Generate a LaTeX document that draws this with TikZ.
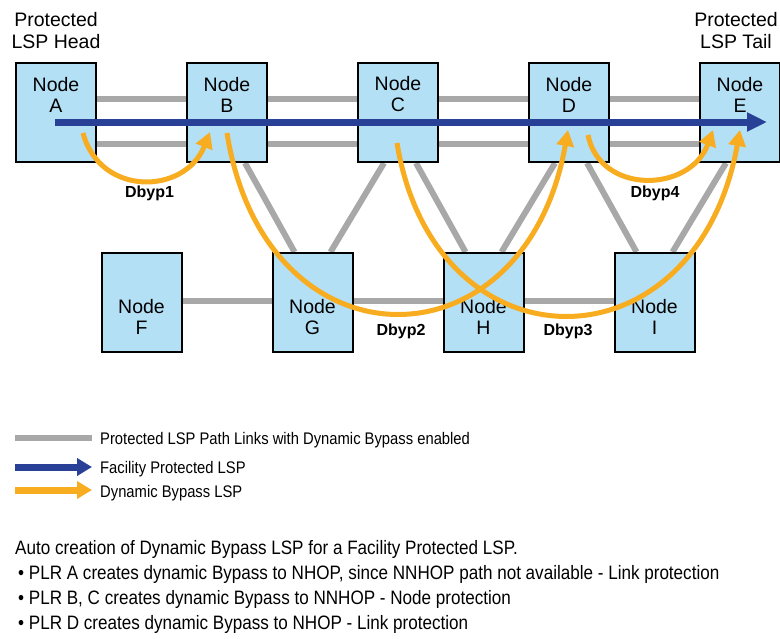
\documentclass[tikz,border=0pt]{standalone}
\usepackage{fontspec}
\setmainfont{Liberation Sans}
\newfontfamily\condfont[FakeStretch=0.88]{Liberation Sans}
\usepackage{tikz}
\usetikzlibrary{positioning,arrows.meta,backgrounds}

\definecolor{nodefill}{RGB}{180,224,245}
\definecolor{linkgray}{RGB}{168,168,168}
\definecolor{lspblue}{RGB}{40,64,150}
\definecolor{bypassorange}{RGB}{248,172,32}

\begin{document}
\begin{tikzpicture}[x=1pt, y=-1pt, node distance=89pt, every node/.style={inner sep=0pt},
  box/.style={draw, line width=2pt, fill=nodefill, minimum width=80pt, minimum height=99pt},
  nodetxt/.style={align=center, font=\fontsize{19.5}{21}\selectfont},
  toptxt/.style={nodetxt, yshift=18pt}, bottxt/.style={nodetxt, yshift=-14.5pt},
  hdr/.style={align=center, font=\fontsize{19.5}{22}\selectfont},
  dblbl/.style={font=\bfseries\fontsize{16}{16}\selectfont, anchor=base},
  legtxt/.style={font=\condfont\fontsize{16.8}{18}\selectfont, anchor=base west},
  note/.style={font=\condfont\fontsize{19.4}{22}\selectfont, anchor=base west},
  link/.style={draw=linkgray, line width=6pt},
  lsp/.style={draw=lspblue, line width=7pt, -{Triangle[length=20pt,width=18pt]}},
  bypass/.style={draw=bypassorange, line width=5pt, -{Triangle[length=16pt,width=17pt]}},
  legarr/.style={line width=7pt, -{Triangle[length=15pt,width=17pt]}}]
\useasboundingbox (0,0) rectangle (780,638);

% protected path, top row
\node[box, label={[toptxt]center:Node\\A}] (A) at (56,112.5) {};
\node[box, right=of A, label={[toptxt]center:Node\\B}] (B) {};
\node[box, right=of B, label={[toptxt]center:Node\\C}] (C) {};
\node[box, right=of C, label={[toptxt]center:Node\\D}] (D) {};
\node[box, right=of D, label={[toptxt]center:Node\\E}] (E) {};
\node[hdr, above=13pt of A] (head) {Protected\\LSP Head};
\node[hdr, above=13pt of E, xshift=-4pt] (tail) {Protected\\LSP Tail};

% bottom row
\node[box, below=of A, xshift=85.5pt, label={[bottxt]center:Node\\F}] (F) {};
\node[box, right=of F, label={[bottxt]center:Node\\G}] (G) {};
\node[box, right=of G, label={[bottxt]center:Node\\H}] (H) {};
\node[box, right=of H, label={[bottxt]center:Node\\I}] (I) {};

% links
\begin{scope}[on background layer]
\draw[link] ([yshift=13.5pt]A.center) -- ([yshift=13.5pt]B.center); \draw[link] ([yshift=-31.5pt]A.center) -- ([yshift=-31.5pt]B.center);
\draw[link] ([yshift=13.5pt]B.center) -- ([yshift=13.5pt]C.center); \draw[link] ([yshift=-31.5pt]B.center) -- ([yshift=-31.5pt]C.center);
\draw[link] ([yshift=13.5pt]C.center) -- ([yshift=13.5pt]D.center); \draw[link] ([yshift=-31.5pt]C.center) -- ([yshift=-31.5pt]D.center);
\draw[link] ([yshift=13.5pt]D.center) -- ([yshift=13.5pt]E.center); \draw[link] ([yshift=-31.5pt]D.center) -- ([yshift=-31.5pt]E.center);
\draw[link] ([yshift=2pt]F.center) -- ([yshift=2pt]G.center); \draw[link] ([yshift=2pt]G.center) -- ([yshift=2pt]H.center);
\draw[link] ([yshift=2pt]H.center) -- ([yshift=2pt]I.center);
\draw[link] ([xshift=18pt]B.south) -- ([xshift=-18pt]G.north); \draw[link] ([xshift=-14pt]C.south) -- ([xshift=18pt]G.north);
\draw[link] ([xshift=18pt]C.south) -- ([xshift=-18pt]H.north); \draw[link] ([xshift=-14pt]D.south) -- ([xshift=18pt]H.north);
\draw[link] ([xshift=18pt]D.south) -- ([xshift=-18pt]I.north); \draw[link] ([xshift=-14pt]E.south) -- ([xshift=18pt]I.north);
\end{scope}

% LSP and bypasses
\draw[lsp] ([shift={(-1,9.5)}]A.center) -- ([shift={(27,9.5)}]E.center);
\draw[bypass] ([shift={(27,20.5)}]A.center) .. controls ([shift={(44,84.5)}]A.center) and ([shift={(-42,82.5)}]B.center) .. ([shift={(-17,19.5)}]B.center);
\draw[bypass] ([shift={(0,20.5)}]B.center) .. controls ([shift={(38,260.5)}]B.center) and ([shift={(-44,260.5)}]D.center) .. ([shift={(-1,17.5)}]D.center);
\draw[bypass] ([shift={(-1,30.5)}]C.center) .. controls ([shift={(37,261.5)}]C.center) and ([shift={(-44,261.5)}]E.center) .. ([shift={(0,17.5)}]E.center);
\draw[bypass] ([shift={(19,22.5)}]D.center) .. controls ([shift={(31,82.5)}]D.center) and ([shift={(-50,80.5)}]E.center) .. ([shift={(-27,17.5)}]E.center);
\node[dblbl] (d1) at (149.5,197) {Dbyp1};
\node[dblbl] (d2) at (401,335) {Dbyp2};
\node[dblbl] (d3) at (568,335) {Dbyp3};
\node[dblbl] (d4) at (655,197) {Dbyp4};

% legend
\node[legtxt] (leg1) at (100,444) {Protected LSP Path Links with Dynamic Bypass enabled};
\node[legtxt] (leg2) at (100,473) {Facility Protected LSP};
\node[legtxt] (leg3) at (100,497) {Dynamic Bypass LSP};
\coordinate (k1) at (15,438); \coordinate (k2) at (15,467); \coordinate (k3) at (15,490);
\draw[link, shorten >=8pt] (k1) -- (k1 -| leg1.west);
\draw[legarr, draw=lspblue, shorten >=8pt] (k2) -- (k2 -| leg2.west);
\draw[legarr, draw=bypassorange, shorten >=8pt] (k3) -- (k3 -| leg3.west);

% notes
\node[note] (n0) at (15,554) {Auto creation of Dynamic Bypass LSP for a Facility Protected LSP.};
\node[note] (n1) at (18,579) {\textbullet\ PLR A creates dynamic Bypass to NHOP, since NNHOP path not available - Link protection};
\node[note] (n2) at (18,604) {\textbullet\ PLR B, C creates dynamic Bypass to NNHOP - Node protection};
\node[note] (n3) at (18,629) {\textbullet\ PLR D creates dynamic Bypass to NHOP - Link protection};
\end{tikzpicture}
\end{document}
